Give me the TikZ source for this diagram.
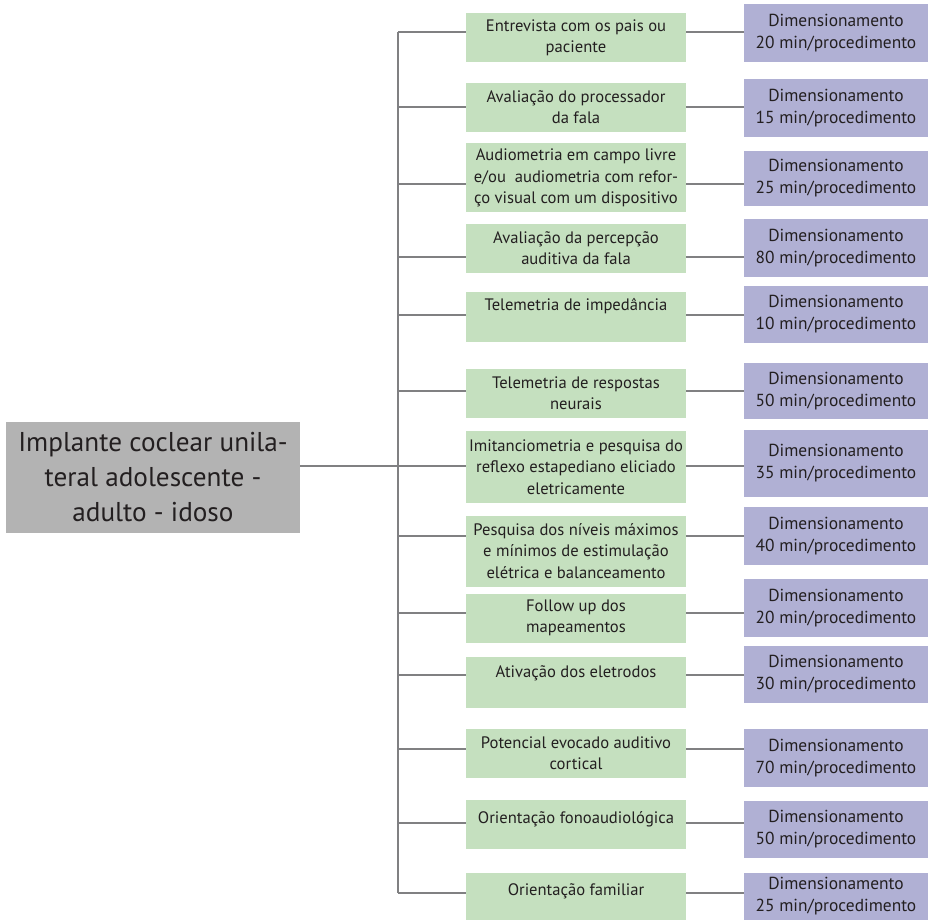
\documentclass[tikz,border=0pt]{standalone}
\usepackage{fontspec}
\setmainfont{PT Sans}
\definecolor{stepgreen}{RGB}{197,224,191}
\definecolor{timeblue}{RGB}{176,176,212}
\definecolor{rootgray}{RGB}{179,179,179}
\definecolor{linkgray}{RGB}{128,128,130}
\definecolor{inkdark}{RGB}{35,31,32}
\tikzset{
  conn/.style={draw=linkgray, line width=2.6pt},
  gbox/.style={rectangle, fill=stepgreen, inner sep=0pt, minimum width=220pt},
  gtxt/.style={align=center, inner sep=0pt, text=inkdark,
    font=\fontsize{16.6}{21.5}\selectfont},
  pbox/.style={rectangle, fill=timeblue, inner sep=0pt, minimum width=184pt,
    align=center, text=inkdark, font=\fontsize{17.4}{22}\selectfont},
  rootbox/.style={rectangle, fill=rootgray, inner sep=0pt, minimum width=294pt,
    minimum height=111pt, align=center, text=inkdark,
    font=\fontsize{27.2}{35}\selectfont},
}
% one procedure row: id, branch y, green top, green bottom, text y, text,
% purple top, purple bottom, minutes
\newcommand\procrow[9]{%
  \node[gbox, minimum height={(#4-#3)*1pt}] (g#1) at (576,{(#3+#4)/2}) {};
  \node[gtxt] (g#1t) at (576,#5) {#6};
  \node[pbox, minimum height={(#8-#7)*1pt}] (p#1) at (836,{(#7+#8)/2})
    {Dimensionamento\\#9 min/procedimento};
  \coordinate (l#1) at (398,#2);
  \draw[conn] (l#1) -- (g#1.west |- l#1);
  \draw[conn] (g#1.east |- l#1) -- (p#1.west |- l#1);
}
\begin{document}
\begin{tikzpicture}[x=1pt, y=-1pt]
\useasboundingbox (0,0) rectangle (929,920);
\fill[white] (0,0) rectangle (929,920);

\procrow{1}{32}{13}{62}{38}{Entrevista com os pais ou\\paciente}{4}{62}{20}
\procrow{2}{107}{83}{132}{107}{Avaliação do processador\\da fala}{79}{137}{15}
\procrow{3}{184}{143}{212}{178}{Audiometria em campo livre\\e/ou\ \ audiometria com refor-\\ço visual com um dispositivo}{151}{206}{25}
\procrow{4}{257}{224}{273}{248}{Avaliação da percepção\\auditiva da fala}{219}{277}{80}
\procrow{5}{315}{292}{342}{306}{Telemetria de impedância}{286}{343}{10}
\procrow{6}{391}{369}{418}{393}{Telemetria de respostas\\neurais}{363}{419}{50}
\procrow{7}{466}{431}{503}{467}{Imitanciometria e pesquisa do\\reflexo estapediano eliciado\\eletricamente}{430}{497}{35}
\procrow{8}{536}{516}{587}{551}{Pesquisa dos níveis máximos\\e mínimos de estimulação\\elétrica e balanceamento}{507}{565}{40}
\procrow{9}{613}{594}{643}{618}{Follow up dos\\mapeamentos}{579}{637}{20}
\procrow{10}{675}{657}{708}{673}{Ativação dos eletrodos}{646}{703}{30}
\procrow{11}{749}{729}{778}{753}{Potencial evocado auditivo\\cortical}{729}{787}{70}
\procrow{12}{823}{800}{849}{819}{Orientação fonoaudiológica}{801}{858}{50}
\procrow{13}{893}{873}{920}{891}{Orientação familiar}{873}{920}{25}

% trunk joining every row
\draw[conn] (l1) -- (l13);

% root node and its link to the trunk
\node[rootbox] (root) at (153,477.5)
  {Implante coclear unila-\\teral adolescente -\\adulto - idoso};
\draw[conn] (root.east |- l7) -- (l7);
\end{tikzpicture}
\end{document}
